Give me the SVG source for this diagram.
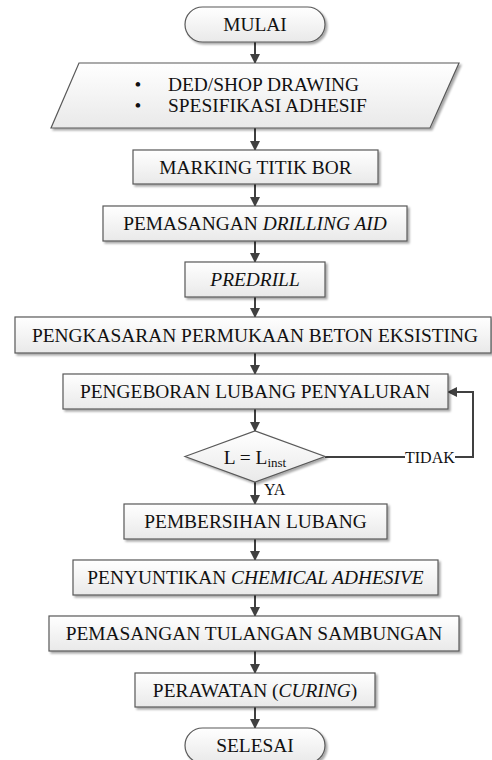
<svg xmlns="http://www.w3.org/2000/svg" width="492" height="760" viewBox="0 0 492 760" font-family="'Liberation Serif', 'Times New Roman', serif">
<defs>
<linearGradient id="g" x1="0" y1="0" x2="0" y2="1">
<stop offset="0" stop-color="#ffffff"/>
<stop offset="1" stop-color="#e9e9e9"/>
</linearGradient>
<filter id="sh" x="-5%" y="-10%" width="115%" height="140%">
<feGaussianBlur in="SourceAlpha" stdDeviation="1"/>
<feOffset dx="2" dy="2" result="b"/>
<feComponentTransfer><feFuncA type="linear" slope="0.35"/></feComponentTransfer>
<feMerge><feMergeNode/><feMergeNode in="SourceGraphic"/></feMerge>
</filter>
<marker id="ah" markerWidth="10" markerHeight="10" refX="9" refY="5" orient="auto" markerUnits="userSpaceOnUse">
<path d="M0,0 L10,5 L0,10 Z" fill="#404040"/>
</marker>
</defs>
<style>
.s{fill:url(#g);stroke:#595959;stroke-width:1.2;filter:url(#sh)}
.t{font-family:'Liberation Serif','Times New Roman',serif;font-size:19.4px;fill:#111;text-anchor:middle}
.st{text-anchor:start}
.l{font-family:'Liberation Serif','Times New Roman',serif;font-size:16px;fill:#111}
.c{fill:none;stroke:#404040;stroke-width:2}
.i{font-style:italic}
</style>
<rect width="492" height="760" fill="#ffffff"/>
<g id="connectors">
<line class="c" x1="255" y1="42" x2="255" y2="63" marker-end="url(#ah)"/>
<line class="c" x1="255" y1="128" x2="255" y2="150" marker-end="url(#ah)"/>
<line class="c" x1="255" y1="184" x2="255" y2="206" marker-end="url(#ah)"/>
<line class="c" x1="255" y1="241" x2="255" y2="262" marker-end="url(#ah)"/>
<line class="c" x1="255" y1="297" x2="255" y2="317" marker-end="url(#ah)"/>
<line class="c" x1="255" y1="353" x2="255" y2="374" marker-end="url(#ah)"/>
<line class="c" x1="255" y1="409" x2="255" y2="431" marker-end="url(#ah)"/>
<line class="c" x1="255" y1="482" x2="255" y2="504" marker-end="url(#ah)"/>
<line class="c" x1="255" y1="539" x2="255" y2="560" marker-end="url(#ah)"/>
<line class="c" x1="255" y1="595" x2="255" y2="616" marker-end="url(#ah)"/>
<line class="c" x1="255" y1="651" x2="255" y2="673" marker-end="url(#ah)"/>
<line class="c" x1="255" y1="707" x2="255" y2="728" marker-end="url(#ah)"/>
<line class="c" x1="325" y1="457" x2="405" y2="457"/>
<polyline class="c" points="455,457 473,457 473,392 448,392" marker-end="url(#ah)"/>
<text class="l" x="405" y="462.5">TIDAK</text>
<text class="l" x="264" y="495">YA</text>
</g>
<g id="mulai">
<rect class="s" x="185" y="7" width="140" height="35" rx="17.5"/>
<text class="t" x="255" y="31">MULAI</text>
</g>
<g id="input">
<polygon class="s" points="79,63 459,63 430,128 51,128"/>
<text class="t" x="138" y="91">•</text>
<text class="t st" x="168" y="91">DED/SHOP DRAWING</text>
<text class="t" x="138" y="112">•</text>
<text class="t st" x="168" y="112">SPESIFIKASI ADHESIF</text>
</g>
<g id="marking">
<rect class="s" x="133" y="150" width="245" height="34"/>
<text class="t" x="255.5" y="173.5">MARKING TITIK BOR</text>
</g>
<g id="drilling-aid">
<rect class="s" x="103" y="206" width="304" height="35"/>
<text class="t" x="255" y="229.5">PEMASANGAN <tspan class="i">DRILLING AID</tspan></text>
</g>
<g id="predrill">
<rect class="s" x="185" y="262" width="140" height="35"/>
<text class="t i" x="255" y="285.5">PREDRILL</text>
</g>
<g id="pengkasaran">
<rect class="s" x="15" y="317" width="476" height="36"/>
<text class="t" x="255" y="341.5">PENGKASARAN PERMUKAAN BETON EKSISTING</text>
</g>
<g id="pengeboran">
<rect class="s" x="63" y="374" width="385" height="35"/>
<text class="t" x="255" y="398">PENGEBORAN LUBANG PENYALURAN</text>
</g>
<g id="decision">
<polygon class="s" points="185,456.5 255,431 325,456.5 255,482"/>
<text class="t" x="255" y="463.5">L = L<tspan font-size="13px" dy="3">inst</tspan></text>
</g>
<g id="pembersihan">
<rect class="s" x="124" y="504" width="263" height="35"/>
<text class="t" x="255.5" y="527.5">PEMBERSIHAN LUBANG</text>
</g>
<g id="penyuntikan">
<rect class="s" x="73" y="560" width="365" height="35"/>
<text class="t" x="255.5" y="583.5">PENYUNTIKAN <tspan class="i">CHEMICAL ADHESIVE</tspan></text>
</g>
<g id="tulangan">
<rect class="s" x="49" y="616" width="410" height="35"/>
<text class="t" x="254" y="640">PEMASANGAN TULANGAN SAMBUNGAN</text>
</g>
<g id="perawatan">
<rect class="s" x="135" y="673" width="240" height="34"/>
<text class="t" x="255" y="697">PERAWATAN (<tspan class="i">CURING</tspan>)</text>
</g>
<g id="selesai">
<rect class="s" x="185" y="728" width="140" height="35" rx="17.5"/>
<text class="t" x="255" y="752">SELESAI</text>
</g>
</svg>
